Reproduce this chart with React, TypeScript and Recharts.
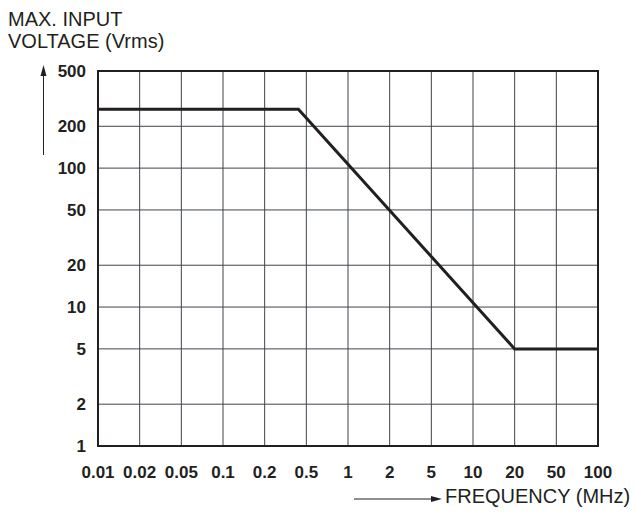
import React from "react";
import { LineChart, Line, XAxis, YAxis, CartesianGrid, ReferenceArea } from "recharts";

const freqTicks = [0.01, 0.02, 0.05, 0.1, 0.2, 0.5, 1, 2, 5, 10, 20, 50, 100];
const freqLabels = ["0.01", "0.02", "0.05", "0.1", "0.2", "0.5", "1", "2", "5", "10", "20", "50", "100"];
const voltTicks = [1, 2, 5, 10, 20, 50, 100, 200, 500];
const curveFreq = [0.01, 0.42, 20, 100];
const curveVolt = [265, 265, 5, 5];

// position on the evenly spaced 1-2-5 frequency axis (log interpolation between ticks)
function freqToPos(f: number): number {
  for (let i = 0; i < freqTicks.length - 1; i++) {
    const a = freqTicks[i];
    const b = freqTicks[i + 1];
    if (f >= a && f <= b) return i + Math.log(f / a) / Math.log(b / a);
  }
  return f < freqTicks[0] ? 0 : freqTicks.length - 1;
}

const data = curveFreq.map((f, i) => ({ pos: freqToPos(f), v: curveVolt[i] }));
const posTicks = freqTicks.map((_, i) => i);

const FONT = "'Liberation Sans', Arial, Helvetica, sans-serif";
const INK = "#231f20";

export default function App() {
  return (
    <div style={{ position: "absolute", left: 0, top: 0, width: 635, height: 516, background: "#fff" }}>
      <LineChart width={635} height={516} data={data} margin={{ top: 71, right: 37, bottom: 40, left: 0 }}>
        <CartesianGrid stroke="#3f444a" strokeWidth={1} vertical horizontal />
        <XAxis
          dataKey="pos"
          type="number"
          domain={[0, freqTicks.length - 1]}
          ticks={posTicks}
          interval={0}
          tickFormatter={(i: number) => freqLabels[i]}
          axisLine={false}
          tickLine={false}
          tickSize={6}
          tickMargin={14}
          height={30}
          tick={{ fontSize: 17, fontWeight: "bold", fill: INK, fontFamily: FONT }}
        />
        <YAxis
          dataKey="v"
          type="number"
          scale="log"
          domain={[1, 500]}
          ticks={voltTicks}
          interval={0}
          allowDataOverflow
          axisLine={false}
          tickLine={false}
          tickSize={6}
          tickMargin={6}
          width={98}
          tick={{ fontSize: 17, fontWeight: "bold", fill: INK, fontFamily: FONT }}
        />
        <ReferenceArea x1={0} x2={freqTicks.length - 1} y1={1} y2={500} fill="none" stroke={INK} strokeWidth={2} ifOverflow="visible" />
        <Line
          type="linear"
          dataKey="v"
          stroke={INK}
          strokeWidth={3}
          dot={false}
          activeDot={false}
          isAnimationActive={false}
        />
      </LineChart>
      <svg
        width={635}
        height={516}
        style={{ position: "absolute", left: 0, top: 0, pointerEvents: "none" }}
      >
        <text x={8} y={26} fontSize={20} fontFamily={FONT} fill={INK}>MAX. INPUT</text>
        <text x={8} y={48} fontSize={20} fontFamily={FONT} fill={INK}>VOLTAGE (Vrms)</text>
        <line x1={43.5} y1={74} x2={43.5} y2={155} stroke={INK} strokeWidth={1} />
        <polygon points="43.5,65 40.5,76 46.5,76" fill={INK} />
        <line x1={354} y1={499} x2={432} y2={499} stroke={INK} strokeWidth={1} />
        <polygon points="442,499 431,496 431,502" fill={INK} />
        <text x={445} y={503} fontSize={20} fontFamily={FONT} fill={INK}>FREQUENCY (MHz)</text>
      </svg>
    </div>
  );
}
